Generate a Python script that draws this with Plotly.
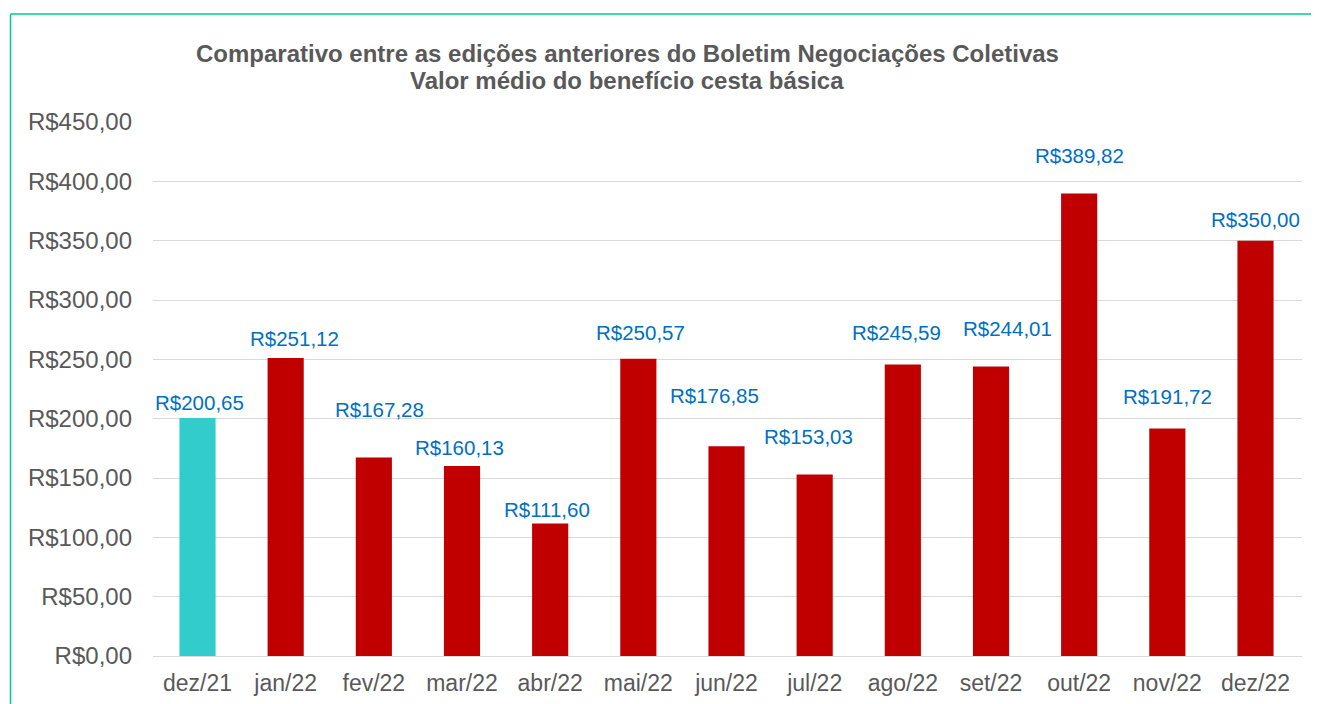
import plotly.graph_objects as go

categories = ["dez/21", "jan/22", "fev/22", "mar/22", "abr/22", "mai/22", "jun/22",
              "jul/22", "ago/22", "set/22", "out/22", "nov/22", "dez/22"]
values = [200.65, 251.12, 167.28, 160.13, 111.60, 250.57, 176.85,
          153.03, 245.59, 244.01, 389.82, 191.72, 350.00]
value_labels = ["R$200,65", "R$251,12", "R$167,28", "R$160,13", "R$111,60", "R$250,57", "R$176,85",
                "R$153,03", "R$245,59", "R$244,01", "R$389,82", "R$191,72", "R$350,00"]
y_tick_values = [0, 50, 100, 150, 200, 250, 300, 350, 400, 450]
y_tick_labels = ["R$0,00", "R$50,00", "R$100,00", "R$150,00", "R$200,00",
                 "R$250,00", "R$300,00", "R$350,00", "R$400,00", "R$450,00"]
title_lines = ["Comparativo entre as edições anteriores do Boletim Negociações Coletivas",
               "Valor médio do benefício cesta básica"]

# label offsets (pixels) to mimic manually placed data labels
label_yshift = [15, 20, 48, 18, 14, 26, 51, 38, 32, 38, 38, 32, 21]
label_xshift = [2, 9, 6, -3, -3, 2, -12, -6, -6, 16, 0, 0, 0]

bar_colors = ["#33CCCC"] + ["#C00000"] * (len(categories) - 1)
FONT = "Liberation Sans, Arial, sans-serif"

# The page body has an 8px margin, so the figure is sized to fit the window.
W, H = 1311, 696
ML, MR, MT, MB = 145, 17, 114, 48
PW = W - ML - MR
PH = H - MT - MB


def px_x(x):
    return (x - ML) / PW


def px_y(y):
    return (H - MB - y) / PH


fig = go.Figure()
fig.add_trace(go.Bar(
    x=categories, y=values,
    marker=dict(color=bar_colors, line=dict(width=0)),
    width=0.41,
    hoverinfo="x+y",
))

for c, v, t, dy, dx in zip(categories, values, value_labels, label_yshift, label_xshift):
    fig.add_annotation(
        x=c, y=v, xref="x", yref="y", text=t, showarrow=False,
        yanchor="middle", xanchor="center", yshift=dy, xshift=dx,
        font=dict(family=FONT, size=20.5, color="#0070C0"),
    )

for line, ypx in zip(title_lines, [45, 72]):
    fig.add_annotation(
        x=px_x(619), y=px_y(ypx), xref="paper", yref="paper",
        text="<b>" + line + "</b>", showarrow=False,
        xanchor="center", yanchor="middle",
        font=dict(family=FONT, size=24, color="#595959"),
    )

fig.update_layout(
    width=W, height=H,
    margin=dict(l=ML, r=MR, t=MT, b=MB, autoexpand=False),
    paper_bgcolor="white", plot_bgcolor="white",
    showlegend=False,
    bargap=0.59,
    font=dict(family=FONT, color="#595959"),
    xaxis=dict(
        type="category", showgrid=False, zeroline=False, showline=False,
        ticks="", tickfont=dict(size=23, color="#595959"),
        ticklabelstandoff=11, automargin=False,
    ),
    yaxis=dict(
        range=[0, 450], tickvals=y_tick_values, ticktext=y_tick_labels,
        showgrid=True, gridcolor="#D9D9D9", gridwidth=1.3,
        zeroline=True, zerolinecolor="#D9D9D9", zerolinewidth=1.3,
        showline=False, ticks="", tickfont=dict(size=24, color="#595959"),
        ticklabelstandoff=20, automargin=False,
    ),
    shapes=[
        dict(type="line", xref="paper", yref="paper",
             x0=px_x(2.5), x1=px_x(W + 20),
             y0=px_y(6), y1=px_y(6),
             line=dict(color="#00C896", width=1.5)),
        dict(type="line", xref="paper", yref="paper",
             x0=px_x(2.5), x1=px_x(2.5),
             y0=px_y(6), y1=px_y(H + 20),
             line=dict(color="#00C896", width=1.5)),
    ],
)

fig.write_html("out.html")
